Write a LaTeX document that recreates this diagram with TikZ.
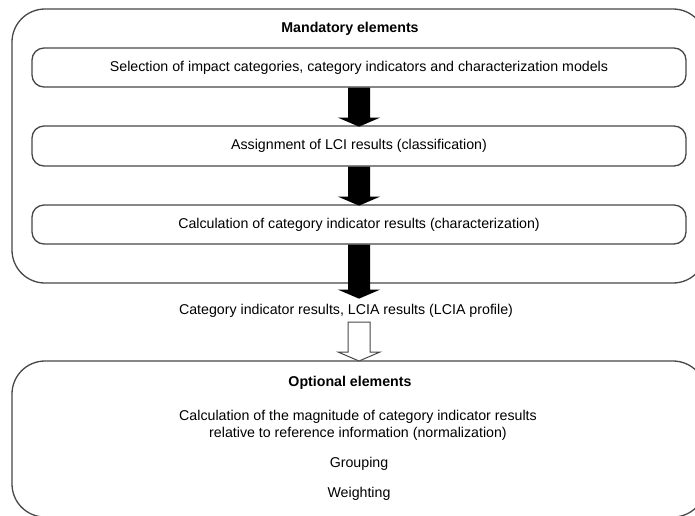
\documentclass[tikz,border=0pt]{standalone}
\usepackage{fontspec}
\setmainfont{Liberation Sans}
\begin{document}
\begin{tikzpicture}[x=1pt,y=-1pt,
  lin/.style={draw=black!72, line width=1.3pt},
  bigbox/.style={lin, rounded corners=33pt, inner sep=0pt},
  stepbox/.style={lin, rounded corners=12pt, minimum width=654pt, inner sep=0pt, align=center},
  txt/.style={font=\fontsize{14.2}{17}\selectfont, align=center, inner sep=0pt},
  hd/.style={font=\fontsize{14.2}{17}\selectfont\bfseries, inner sep=0pt},
]
\useasboundingbox (0,0) rectangle (695,515);
\clip (0,0) rectangle (695,515);
\fill[white] (0,0) rectangle (695,515);
% outer boxes
\node[bigbox, minimum width=694pt, minimum height=274pt] (mand) at (359,146) {};
\node[bigbox, minimum width=694pt, minimum height=156pt] (opt) at (359,439) {};
% headings
\node[hd] (mandh) at (350,29) {Mandatory elements};
\node[hd] (opth) at (350,383) {Optional elements};
% step boxes
\node[stepbox, minimum height=39pt] (sel) at (359,67.5) {};
\node[txt] at (sel) {Selection of impact categories, category indicators and characterization models};
\node[stepbox, minimum height=40pt] (ass) at (359,146) {};
\node[txt] at (ass) {Assignment of LCI results (classification)};
\node[stepbox, minimum height=39pt] (cha) at (359,224.5) {};
\node[txt] at (cha) {Calculation of category indicator results (characterization)};
% result text
\node[txt] (res) at (346,311) {Category indicator results, LCIA results (LCIA profile)};
\coordinate (restop) at (359,298);
\coordinate (resbot) at (359,322);
% optional contents
\node[txt, text depth=0pt] (norm) at (358,424) {Calculation of the magnitude of category indicator results\\relative to reference information (normalization)};
\node[txt] (grp) at (359,464) {Grouping};
\node[txt] (wgt) at (359,494) {Weighting};
% block arrows
\newcommand{\blockarrow}[3]{%
  \path[#1] (#2) ++(-11,0) -- ++(0,{#3-9}) -- ++(-10,0) -- ++(21,9) -- ++(21,-9) -- ++(-10,0) -- ++(0,{-(#3-9)}) -- cycle;}
\blockarrow{fill=black}{sel.south}{39}
\blockarrow{fill=black}{ass.south}{39}
\blockarrow{fill=black}{cha.south}{54}
\blockarrow{draw=black!72, line width=1pt, fill=white}{resbot}{39}
\end{tikzpicture}
\end{document}
